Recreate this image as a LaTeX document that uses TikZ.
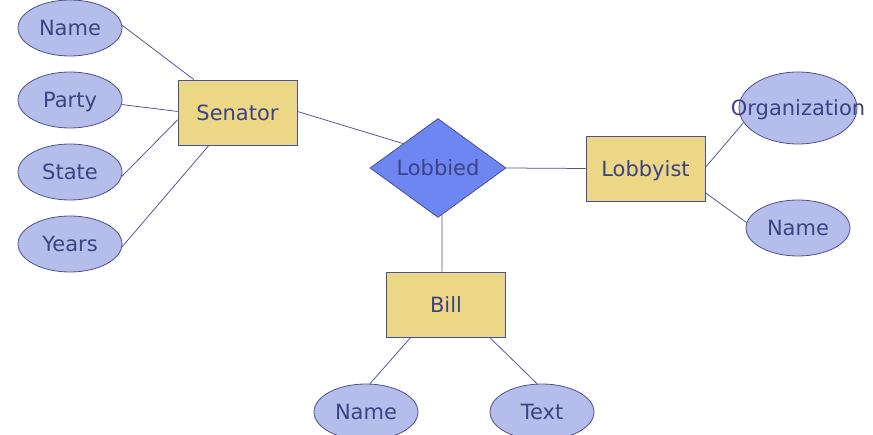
\documentclass[tikz,border=0pt]{standalone}
\usepackage{fontspec}
\setmainfont{DejaVu Sans}
\usetikzlibrary{shapes.geometric}
\definecolor{attrfill}{HTML}{B5BEEA}
\definecolor{entfill}{HTML}{EBD785}
\definecolor{relfill}{HTML}{6E86F2}
\definecolor{edgecol}{HTML}{4C4F92}
\definecolor{txtcol}{HTML}{3C4283}
\tikzset{
  base/.style={draw=edgecol, line width=0.8pt, text=txtcol, inner sep=0pt,
    font=\fontsize{21}{24}\selectfont, text depth=0pt},
  attr/.style={base, ellipse, fill=attrfill, minimum width=104pt, minimum height=56pt},
  entity/.style={base, rectangle, fill=entfill, minimum width=119pt, minimum height=65pt},
  rel/.style={base, diamond, fill=relfill, minimum width=136pt, minimum height=96pt},
  link/.style={draw=edgecol, line width=0.75pt}
}
\begin{document}
\begin{tikzpicture}[x=1pt, y=-1pt]
\useasboundingbox (0,0) rectangle (873,435);
\clip (0,0) rectangle (873,435);

% entities
\node[entity] (sen) at (237.5,112.5) {Senator};
\node[entity] (lobbyist) at (645.5,168.5) {Lobbyist};
\node[entity] (bill) at (446,304.5) {Bill};

% relationship
\node[rel] (lob) at (438,168) {Lobbied};

% Senator attributes
\node[attr] (sname) at (70,28) {Name};
\node[attr] (party) at (70,100) {Party};
\node[attr] (state) at (70,172) {State};
\node[attr] (years) at (70,244) {Years};

% Lobbyist attributes
\node[attr, minimum width=118pt, minimum height=72pt] (org) at (798,108) {\makebox[0pt]{Organization}};
\node[attr] (lname) at (798,228) {Name};

% Bill attributes
\node[attr] (bname) at (366,412) {Name};
\node[attr] (btext) at (542,412) {Text};

% connectors
\draw[link] (sname.3) -- (sen.143);
\draw[link] (party.355) -- (sen.179);
\draw[link] (state.355) -- (sen.187);
\draw[link] (years.357) -- (sen.229);
\draw[link] (sen.1.4) -- (lob.145);
\draw[link] (lob.east) -- (lobbyist.west);
\draw[link] (lob.275) -- (bill.97);
\draw[link] (lobbyist.1.4) -- (org.195);
\draw[link] (lobbyist.338.4) -- (lname.174.5);
\draw[link] (bill.223.7) -- (bname.82);
\draw[link] (bill.323.5) -- (btext.100);
\end{tikzpicture}
\end{document}
